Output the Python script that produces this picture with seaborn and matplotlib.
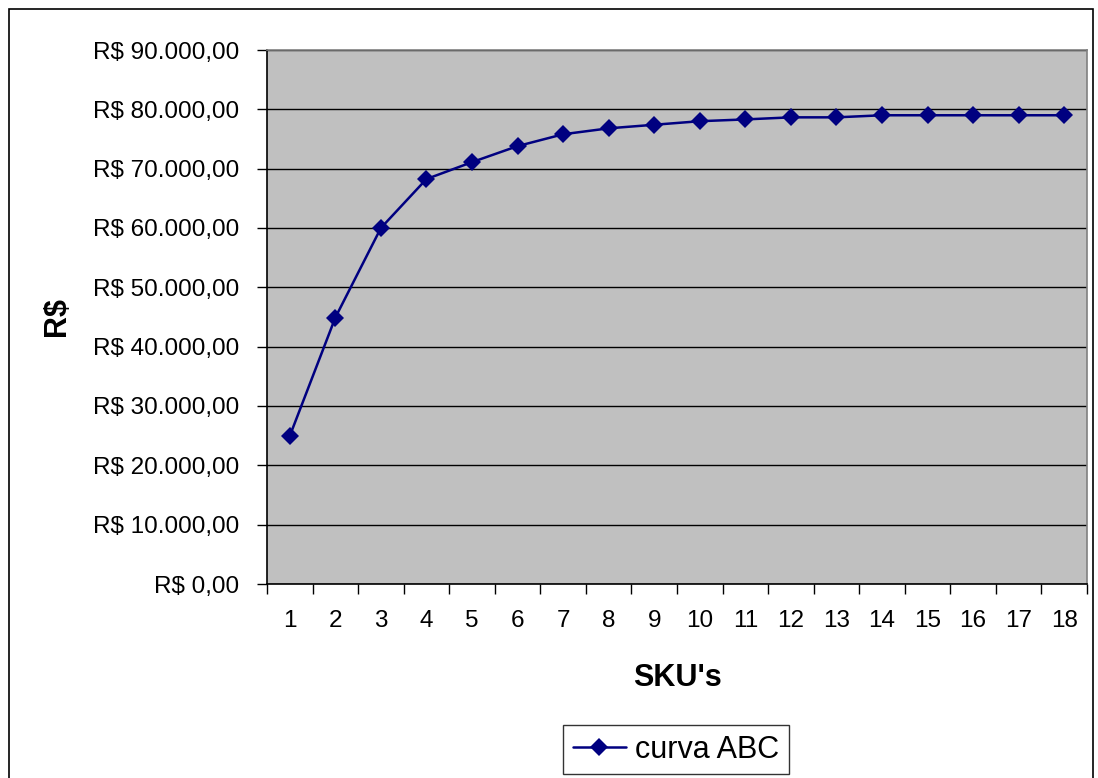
import matplotlib
matplotlib.use("Agg")
import matplotlib.pyplot as plt
import matplotlib.patches as mpatches
from matplotlib.ticker import FixedLocator, FuncFormatter
import seaborn as sns
import pandas as pd

# ---- data ----
skus = list(range(1, 19))
valores = [24950, 44900, 60000, 68250, 71100, 73800, 75800, 76800, 77400,
           78000, 78300, 78650, 78650, 79000, 79000, 79000, 79000, 79000]
serie = "curva ABC"
y_ticks = [0, 10000, 20000, 30000, 40000, 50000, 60000, 70000, 80000, 90000]

sns.set_theme(style="white")
plt.rcParams['font.family'] = ['Liberation Sans', 'DejaVu Sans']
plt.rcParams['text.color'] = 'black'
plt.rcParams['axes.labelcolor'] = 'black'
plt.rcParams['xtick.color'] = 'black'
plt.rcParams['ytick.color'] = 'black'

df = pd.DataFrame({"SKU's": skus, "R$": valores, "serie": serie})

fig = plt.figure(figsize=(10.98, 7.78), dpi=100)
fig.patch.set_facecolor("white")
# outer chart border
fig.patches.append(mpatches.Rectangle((9 / 1098, -0.05), (1093 - 9) / 1098, 1 - 9 / 778 + 0.05,
                                      transform=fig.transFigure, fill=False,
                                      edgecolor="black", linewidth=1.2))

ax = fig.add_axes([267 / 1098, 1 - 584 / 778, (1087 - 267) / 1098, (584 - 50) / 778])
ax.set_facecolor("#C0C0C0")

sns.lineplot(data=df, x="SKU's", y="R$", ax=ax, color="#000080", linewidth=1.8,
             marker="D", markersize=9.5, markeredgewidth=0, label=serie, legend=False)

ax.set_xlim(0.5, 18.5)
ax.set_ylim(0, 90000)

# y axis
ax.yaxis.set_major_locator(FixedLocator(y_ticks))
def fmt(v, pos):
    s = f"{int(v):,}".replace(",", ".")
    return f"R$ {s},00"
ax.yaxis.set_major_formatter(FuncFormatter(fmt))
ax.tick_params(axis="y", which="major", direction="out", length=7, width=1,
               color="black", labelsize=17.5, pad=13, left=True, labelcolor="black")
ax.grid(axis="y", color="black", linewidth=1)
ax.grid(axis="x", visible=False)

# x axis: ticks at boundaries, labels at centers
ax.xaxis.set_major_locator(FixedLocator([i + 0.5 for i in range(0, 19)]))
ax.xaxis.set_major_formatter(FuncFormatter(lambda v, p: ""))
ax.xaxis.set_minor_locator(FixedLocator(skus))
ax.xaxis.set_minor_formatter(FuncFormatter(lambda v, p: f"{int(round(v))}"))
ax.tick_params(axis="x", which="major", direction="out", length=7, width=1,
               color="black", bottom=True)
ax.tick_params(axis="x", which="minor", length=0, labelsize=17.5, pad=19, bottom=True,
               labelcolor="black")

ax.set_xlabel("SKU's", fontsize=22, fontweight="bold", labelpad=22, color="black")
ax.set_ylabel("R$", fontsize=22, fontweight="bold", labelpad=15, color="black")

for side in ["top", "right"]:
    ax.spines[side].set_color("#808080")
    ax.spines[side].set_linewidth(1.2)
for side in ["left", "bottom"]:
    ax.spines[side].set_color("black")
    ax.spines[side].set_linewidth(1.2)

handles, labels = ax.get_legend_handles_labels()
leg = fig.legend(handles, labels, loc="center", bbox_to_anchor=(676 / 1098, 1 - 749.5 / 778),
                 fontsize=22, frameon=True, fancybox=False, edgecolor="black",
                 handlelength=1.75, handletextpad=0.3, borderpad=0.3, borderaxespad=0,
                 labelcolor="black")
leg.get_frame().set_linewidth(1.0)

fig.savefig("out.png", dpi=100)
